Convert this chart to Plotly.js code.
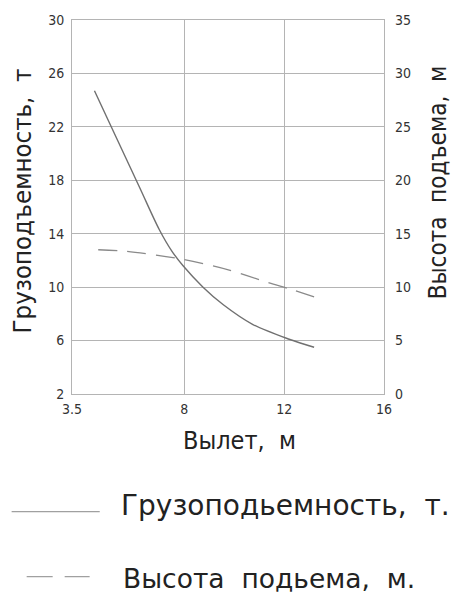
<!DOCTYPE html>
<html>
<head>
<meta charset="utf-8">
<script src="https://cdn.plot.ly/plotly-3.0.1.min.js"></script>
<style>html,body{margin:0;padding:0;background:#fff;}#chart{width:452px;height:593px;}</style>
</head>
<body>
<div id="chart"></div>
<script>
// Data
var capacityX = [4.4, 5.1, 6.2, 7.0, 7.5, 7.95, 8.75, 9.55, 10.75, 12.2, 13.2];
var capacityY = [24.7, 21.9, 17.5, 14.3, 12.7, 11.6, 10.0, 8.7, 7.2, 6.1, 5.5];
var heightX = [4.55, 5.7, 7.95, 9.8, 11.4, 12.2, 13.25];
var heightY = [13.5, 13.35, 12.6, 11.6, 10.4, 9.85, 9.05];
var xTicks = [3.5, 8, 12, 16];
var xTickText = ['3.5', '8', '12', '16'];
var yLeftTicks = [2, 6, 10, 14, 18, 22, 26, 30];
var yRightTicks = [0, 5, 10, 15, 20, 25, 30, 35];
var capacityName = 'Грузоподьемность,  т.';
var heightName = 'Высота  подьема,  м.';
var xTitle = 'Вылет,  м';
var yLeftTitle = 'Грузоподъемность,  т';
var yRightTitle = 'Высота  подъема,  м';

var FONT = '"DejaVu Sans Condensed", "Liberation Sans Narrow", "DejaVu Sans", sans-serif';
var LFONT = '"DejaVu Sans", sans-serif';
var TXT = '#222';
var GRID = '#b4b4b4';

var traces = [
  {x: capacityX, y: capacityY, type: 'scatter', mode: 'lines', name: capacityName,
   line: {color: '#707070', width: 1.4, shape: 'spline', smoothing: 0.9}, yaxis: 'y', showlegend: false},
  {x: heightX, y: heightY, type: 'scatter', mode: 'lines', name: heightName,
   line: {color: '#8a8a8a', width: 1.3, dash: '19px,10px', shape: 'spline', smoothing: 0.8}, yaxis: 'y2', showlegend: false}
];

var layout = {
  width: 452, height: 593,
  margin: {l: 72.3, r: 68, t: 20.3, b: 198.7, pad: 0},
  paper_bgcolor: '#fff', plot_bgcolor: '#fff',
  font: {family: FONT, color: TXT, size: 14},
  showlegend: false,
  xaxis: {
    range: [3.5, 16], tickmode: 'array', tickvals: xTicks, ticktext: xTickText,
    showgrid: true, gridcolor: GRID, gridwidth: 1, zeroline: false,
    showline: true, linecolor: GRID, linewidth: 1, mirror: true,
    ticks: '', ticklen: 0, ticklabelstandoff: 2, tickfont: {family: FONT, size: 14, color: '#333'}
  },
  yaxis: {
    range: [2, 30], tickmode: 'array', tickvals: yLeftTicks,
    showgrid: true, gridcolor: GRID, gridwidth: 1, zeroline: false,
    showline: true, linecolor: GRID, linewidth: 1, mirror: true,
    ticks: '', ticklen: 0, ticklabelstandoff: 4, tickfont: {family: FONT, size: 14, color: '#333'}
  },
  yaxis2: {
    range: [0, 35], tickmode: 'array', tickvals: yRightTicks, overlaying: 'y', side: 'right',
    showgrid: false, zeroline: false, showline: false, ticks: '',
    ticklabelstandoff: 10, tickfont: {family: FONT, size: 14, color: '#333'}
  },
  annotations: [
    {text: yLeftTitle, xref: 'paper', yref: 'paper', x: -0.161, y: 0.517, textangle: -90,
     showarrow: false, xanchor: 'center', yanchor: 'middle', font: {family: FONT, size: 25.5, color: TXT}},
    {text: yRightTitle, xref: 'paper', yref: 'paper', x: 1.172, y: 0.565, textangle: -90,
     showarrow: false, xanchor: 'center', yanchor: 'middle', font: {family: FONT, size: 24, color: TXT}},
    {text: xTitle, xref: 'paper', yref: 'paper', x: 0.538, y: -0.125,
     showarrow: false, xanchor: 'center', yanchor: 'middle', font: {family: FONT, size: 25, color: TXT}},
    {text: capacityName, xref: 'paper', yref: 'paper', x: 0.1497, y: -0.297,
     showarrow: false, xanchor: 'left', yanchor: 'middle', font: {family: LFONT, size: 28, color: TXT}},
    {text: heightName, xref: 'paper', yref: 'paper', x: 0.1561, y: -0.493,
     showarrow: false, xanchor: 'left', yanchor: 'middle', font: {family: LFONT, size: 26.5, color: TXT}}
  ],
  shapes: [
    {type: 'line', xref: 'paper', yref: 'paper', x0: -0.1935, x1: 0.0889, y0: -0.3147, y1: -0.3147,
     line: {color: '#a0a0a0', width: 1.3}},
    {type: 'line', xref: 'paper', yref: 'paper', x0: -0.1453, x1: 0.0565, y0: -0.4885, y1: -0.4885,
     line: {color: '#a0a0a0', width: 1.3, dash: '26px,12px'}}
  ]
};

Plotly.newPlot('chart', traces, layout, {staticPlot: true, displayModeBar: false});
</script>
</body>
</html>
